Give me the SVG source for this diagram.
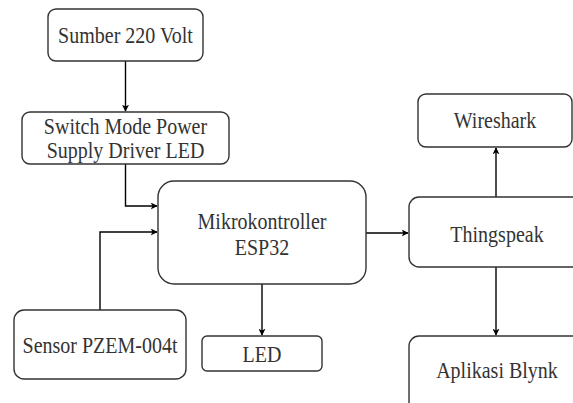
<svg xmlns="http://www.w3.org/2000/svg" width="573" height="403" viewBox="0 0 573 403">
<style>
.box{fill:#fff;stroke:#333;stroke-width:1.4}
.t{font-family:'Liberation Serif','DejaVu Serif',serif;font-size:20px;fill:#333;text-anchor:middle}
.c{fill:none;stroke:#000;stroke-width:1.4}
</style>
<defs>
<marker id="a" viewBox="0 0 10 10" refX="9" refY="5" markerWidth="7" markerHeight="7" markerUnits="userSpaceOnUse" orient="auto">
<path d="M0,0 L10,5 L0,10 L2.5,5 Z" fill="#000"/>
</marker>
</defs>
<rect width="573" height="403" fill="#fff"/>
<g id="connectors">
<path class="c" d="M125.5,61 V111" marker-end="url(#a)"/>
<path class="c" d="M125.5,164 V206 H157" marker-end="url(#a)"/>
<path class="c" d="M100,310 V232 H157" marker-end="url(#a)"/>
<path class="c" d="M262,284 V335" marker-end="url(#a)"/>
<path class="c" d="M366,233 H408" marker-end="url(#a)"/>
<path class="c" d="M496,197 V148" marker-end="url(#a)"/>
<path class="c" d="M496,267 V335" marker-end="url(#a)"/>
</g>
<g id="sumber">
<rect class="box" x="48" y="9" width="155" height="52" rx="8"/>
<text class="t" transform="translate(125.5 43) scale(1 1.15)">Sumber 220 Volt</text>
</g>
<g id="smps">
<rect class="box" x="22" y="112" width="207" height="52" rx="8"/>
<text class="t" transform="translate(125.5 134) scale(1 1.15)">Switch Mode Power</text>
<text class="t" transform="translate(125.5 158) scale(1 1.15)">Supply Driver LED</text>
</g>
<g id="mikro">
<rect class="box" x="158" y="181" width="208" height="103" rx="16"/>
<text class="t" transform="translate(262 229) scale(1 1.15)">Mikrokontroller</text>
<text class="t" transform="translate(262 255) scale(1 1.15)">ESP32</text>
</g>
<g id="sensor">
<rect class="box" x="14" y="310" width="172" height="69" rx="10"/>
<text class="t" transform="translate(100 353) scale(1 1.15)">Sensor PZEM-004t</text>
</g>
<g id="led">
<rect class="box" x="202" y="336" width="120" height="35" rx="5"/>
<text class="t" transform="translate(262 362) scale(1 1.15)">LED</text>
</g>
<g id="wireshark">
<rect class="box" x="418" y="94" width="154" height="53" rx="8"/>
<text class="t" transform="translate(495 128) scale(1 1.15)">Wireshark</text>
</g>
<g id="thingspeak">
<rect class="box" x="409" y="197" width="176" height="70" rx="10"/>
<text class="t" transform="translate(497 242) scale(1 1.15)">Thingspeak</text>
</g>
<g id="blynk">
<rect class="box" x="409" y="336" width="176" height="76" rx="10"/>
<text class="t" transform="translate(497 378) scale(1 1.15)">Aplikasi Blynk</text>
</g>
</svg>
